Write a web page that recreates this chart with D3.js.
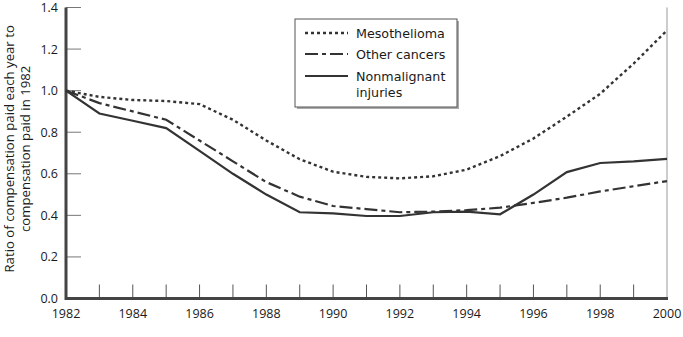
<!DOCTYPE html>
<html>
<head>
<meta charset="utf-8">
<script src="https://cdn.jsdelivr.net/npm/d3@7"></script>
<style>
  body { margin: 0; background: #fff; }
  text { font-family: 'Open Sans', 'Noto Sans', sans-serif; fill: #1a1a1a; }
  .legend text { font-family: 'DejaVu Sans', sans-serif; }
</style>
</head>
<body>
<div id="chart"></div>
<script>
// values
const years = d3.range(1982, 2001);
const mesothelioma = [1.0, 0.97, 0.955, 0.95, 0.935, 0.86, 0.76, 0.67, 0.61, 0.585, 0.578, 0.588, 0.62, 0.685, 0.77, 0.875, 0.985, 1.13, 1.29];
const otherCancers = [1.0, 0.94, 0.9, 0.86, 0.76, 0.66, 0.56, 0.49, 0.445, 0.43, 0.415, 0.418, 0.425, 0.437, 0.46, 0.485, 0.515, 0.54, 0.565];
const nonmalignant = [1.0, 0.89, 0.855, 0.82, 0.71, 0.6, 0.5, 0.415, 0.41, 0.397, 0.397, 0.415, 0.418, 0.405, 0.5, 0.608, 0.652, 0.66, 0.672];
const yTicks = [0, 0.2, 0.4, 0.6, 0.8, 1.0, 1.2, 1.4];
const xLabels = [1982, 1984, 1986, 1988, 1990, 1992, 1994, 1996, 1998, 2000];

const series = [
  { name: ['Mesothelioma'], values: mesothelioma, dash: '3,3', width: 2.4 },
  { name: ['Other cancers'], values: otherCancers, dash: '13,4,4,4', width: 2.2 },
  { name: ['Nonmalignant', 'injuries'], values: nonmalignant, dash: null, width: 2.2 }
];

const W = 683, H = 337;
const margin = { top: 7.5, right: 16, bottom: 38.5, left: 66 };

const svg = d3.select('#chart').append('svg')
  .attr('width', W).attr('height', H);

const x = d3.scaleLinear().domain([1982, 2000]).range([margin.left, W - margin.right]);
const y = d3.scaleLinear().domain([0, 1.4]).range([H - margin.bottom, margin.top]);

// right frame line
svg.append('line')
  .attr('x1', x(2000)).attr('x2', x(2000))
  .attr('y1', y(1.4)).attr('y2', y(0))
  .attr('stroke', '#999').attr('stroke-width', 1);

// y ticks (inward)
svg.selectAll('.ytick').data(yTicks.filter(d => d > 0)).enter()
  .append('line')
  .attr('x1', x(1982)).attr('x2', x(1982) + 15)
  .attr('y1', d => y(d)).attr('y2', d => y(d))
  .attr('stroke', '#777').attr('stroke-width', 1);

svg.selectAll('.ylab').data(yTicks).enter()
  .append('text')
  .attr('x', x(1982) - 8).attr('y', d => y(d))
  .attr('dominant-baseline', 'central')
  .attr('text-anchor', 'end').attr('font-size', 12.5)
  .text(d => d.toFixed(1));

// x ticks (upward), every year
svg.selectAll('.xtick').data(years.slice(1, -1)).enter()
  .append('line')
  .attr('x1', d => x(d)).attr('x2', d => x(d))
  .attr('y1', y(0)).attr('y2', y(0) - 14)
  .attr('stroke', '#555').attr('stroke-width', 1);

svg.selectAll('.xlab').data(xLabels).enter()
  .append('text')
  .attr('x', d => x(d)).attr('y', y(0) + 19)
  .attr('text-anchor', 'middle').attr('font-size', 12.5)
  .text(d => d);

// main axes
svg.append('path')
  .attr('d', `M${x(1982)},${y(1.4)}V${y(0)}H${x(2000) + 1}`)
  .attr('fill', 'none').attr('stroke', '#444').attr('stroke-width', 3);

// y axis title
const yt = svg.append('text')
  .attr('transform', `translate(17,${y(0.72)}) rotate(-90)`)
  .attr('text-anchor', 'middle').attr('font-size', 13.2);
yt.append('tspan').attr('x', 0).attr('dy', -3).text('Ratio of compensation paid each year to');
yt.append('tspan').attr('x', 0).attr('dy', 15.5).text('compensation paid in 1982');

// lines
const line = d3.line().x((d, i) => x(years[i])).y(d => y(d));
series.forEach(s => {
  svg.append('path')
    .datum(s.values)
    .attr('d', line)
    .attr('fill', 'none')
    .attr('stroke', '#333')
    .attr('stroke-width', s.width)
    .attr('stroke-dasharray', s.dash);
});

// legend
const lg = svg.append('g').attr('class', 'legend').attr('transform', 'translate(295,19)');
lg.append('rect').attr('x', 2).attr('y', 2).attr('width', 162).attr('height', 88).attr('fill', '#aaa');
lg.append('rect').attr('width', 162).attr('height', 88).attr('fill', '#fff').attr('stroke', '#555').attr('stroke-width', 1);
const rowsY = [14, 35, 57];
series.forEach((s, i) => {
  lg.append('line')
    .attr('x1', 10).attr('x2', 53).attr('y1', rowsY[i]).attr('y2', rowsY[i])
    .attr('stroke', '#333').attr('stroke-width', s.width)
    .attr('stroke-dasharray', s.dash);
  s.name.forEach((n, j) => {
    lg.append('text')
      .attr('x', 61).attr('y', rowsY[i] + 4.5 + j * 16)
      .attr('font-size', 12.7)
      .text(n);
  });
});
</script>
</body>
</html>
